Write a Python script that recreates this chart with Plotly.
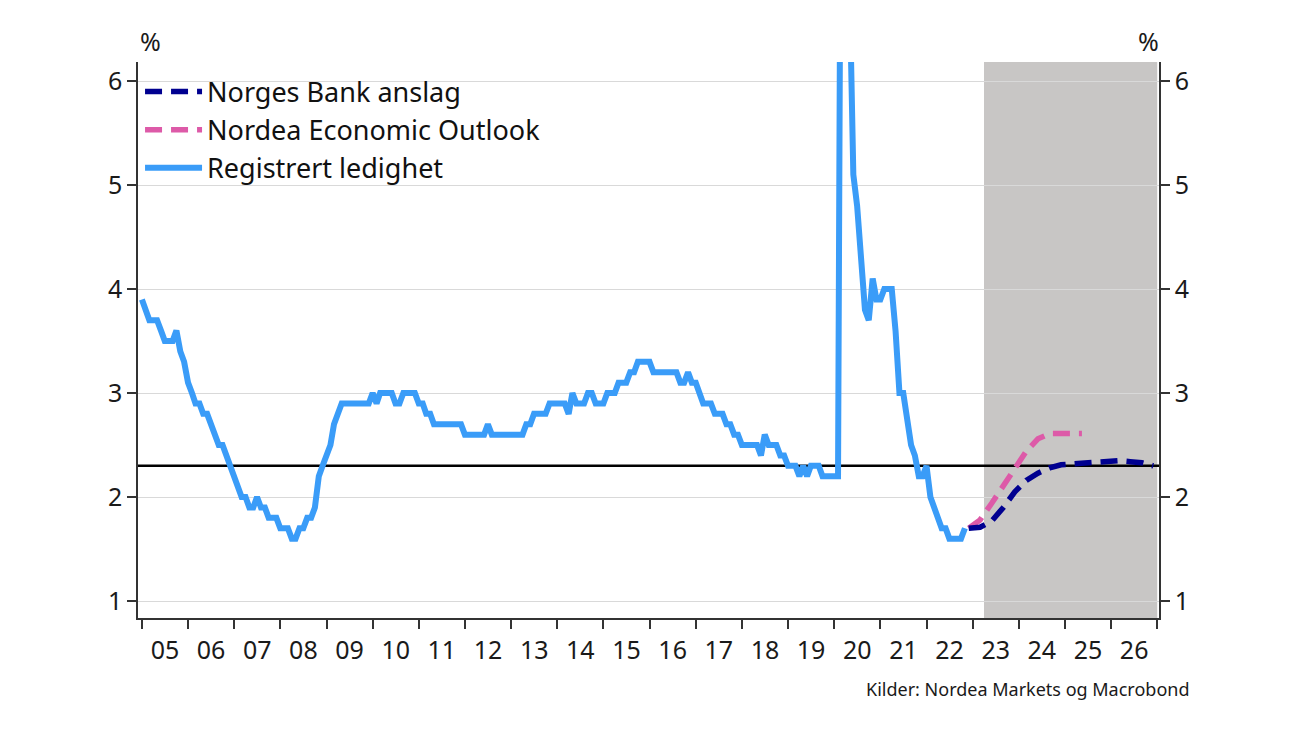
import pandas as pd
import plotly.graph_objects as go

# Registrert ledighet, monthly from Jan 2005
reg_start = "2005-01-01"
reg_values = [
    # 2005
    3.9, 3.8, 3.7, 3.7, 3.7, 3.6, 3.5, 3.5, 3.5, 3.6, 3.4, 3.3,
    # 2006
    3.1, 3.0, 2.9, 2.9, 2.8, 2.8, 2.7, 2.6, 2.5, 2.5, 2.4, 2.3,
    # 2007
    2.2, 2.1, 2.0, 2.0, 1.9, 1.9, 2.0, 1.9, 1.9, 1.8, 1.8, 1.8,
    # 2008
    1.7, 1.7, 1.7, 1.6, 1.6, 1.7, 1.7, 1.8, 1.8, 1.9, 2.2, 2.3,
    # 2009
    2.4, 2.5, 2.7, 2.8, 2.9, 2.9, 2.9, 2.9, 2.9, 2.9, 2.9, 2.9,
    # 2010
    3.0, 2.9, 3.0, 3.0, 3.0, 3.0, 2.9, 2.9, 3.0, 3.0, 3.0, 3.0,
    # 2011
    2.9, 2.9, 2.8, 2.8, 2.7, 2.7, 2.7, 2.7, 2.7, 2.7, 2.7, 2.7,
    # 2012
    2.6, 2.6, 2.6, 2.6, 2.6, 2.6, 2.7, 2.6, 2.6, 2.6, 2.6, 2.6,
    # 2013
    2.6, 2.6, 2.6, 2.6, 2.7, 2.7, 2.8, 2.8, 2.8, 2.8, 2.9, 2.9,
    # 2014
    2.9, 2.9, 2.9, 2.8, 3.0, 2.9, 2.9, 2.9, 3.0, 3.0, 2.9, 2.9,
    # 2015
    2.9, 3.0, 3.0, 3.0, 3.1, 3.1, 3.1, 3.2, 3.2, 3.3, 3.3, 3.3,
    # 2016
    3.3, 3.2, 3.2, 3.2, 3.2, 3.2, 3.2, 3.2, 3.1, 3.1, 3.2, 3.1,
    # 2017
    3.1, 3.0, 2.9, 2.9, 2.9, 2.8, 2.8, 2.8, 2.7, 2.7, 2.6, 2.6,
    # 2018
    2.5, 2.5, 2.5, 2.5, 2.5, 2.4, 2.6, 2.5, 2.5, 2.5, 2.4, 2.4,
    # 2019
    2.3, 2.3, 2.3, 2.2, 2.3, 2.2, 2.3, 2.3, 2.3, 2.2, 2.2, 2.2,
    # 2020
    2.2, 2.2, 10.4, 10.7, 7.0, 5.1, 4.8, 4.3, 3.8, 3.7, 4.1, 3.9,
    # 2021
    3.9, 4.0, 4.0, 4.0, 3.6, 3.0, 3.0, 2.7, 2.5, 2.4, 2.2, 2.2,
    # 2022
    2.3, 2.0, 1.9, 1.8, 1.7, 1.7, 1.6, 1.6, 1.6, 1.6, 1.7,
]
reg_dates = pd.date_range(reg_start, periods=len(reg_values), freq="MS")

# Norges Bank anslag (quarterly path)
nb_dates = ["2022-12-01", "2023-03-01", "2023-06-01", "2023-09-01", "2023-12-01",
            "2024-03-01", "2024-06-01", "2024-09-01", "2024-12-01",
            "2025-03-01", "2025-06-01", "2025-09-01", "2025-12-01",
            "2026-03-01", "2026-06-01", "2026-09-01", "2026-12-01"]
nb_values = [1.70, 1.71, 1.77, 1.90, 2.05, 2.16, 2.23, 2.28, 2.31,
             2.32, 2.33, 2.34, 2.35, 2.35, 2.34, 2.33, 2.30]

# Nordea Economic Outlook
nd_dates = ["2022-12-01", "2023-03-01", "2023-06-01", "2023-09-01", "2023-12-01",
            "2024-03-01", "2024-06-01", "2024-09-01", "2024-12-01",
            "2025-03-01", "2025-05-15"]
nd_values = [1.70, 1.78, 1.94, 2.11, 2.28, 2.44, 2.56, 2.61, 2.61, 2.61, 2.61]

ref_level = 2.3
forecast_start = "2023-04-01"
forecast_end = "2027-01-01"
source_text = "Kilder: Nordea Markets og Macrobond"

FONT = "Noto Sans"
BLUE = "#3a9cf8"
NAVY = "#000090"
PINK = "#dd5aa8"

fig = go.Figure()

fig.add_trace(go.Scatter(
    x=nd_dates, y=nd_values, mode="lines", name="Nordea Economic Outlook",
    line=dict(color=PINK, width=5.5, dash="17px,9px"), legendrank=2))
fig.add_trace(go.Scatter(
    x=nb_dates, y=nb_values, mode="lines", name="Norges Bank anslag",
    line=dict(color=NAVY, width=5.5, dash="17px,9px"), legendrank=1))
fig.add_trace(go.Scatter(
    x=reg_dates, y=reg_values, mode="lines", name="Registrert ledighet",
    line=dict(color=BLUE, width=6), legendrank=3))
# invisible trace for right axis
fig.add_trace(go.Scatter(x=[reg_dates[0]], y=[reg_values[0]], yaxis="y2",
                         mode="lines", showlegend=False, hoverinfo="skip",
                         line=dict(width=0)))

fig.add_shape(type="rect", xref="x", yref="paper", x0=forecast_start, x1=forecast_end,
              y0=0, y1=1, fillcolor="#c8c6c5", line_width=0, layer="below")
fig.add_shape(type="line", xref="paper", yref="y", x0=0, x1=1, y0=ref_level, y1=ref_level,
              line=dict(color="black", width=2.5), layer="between")

yrange = [0.837, 6.183]
xrange_ = ["2004-12-01", "2027-01-15"]

# page body has an 8px margin, so margins are offset accordingly
fig.update_layout(
    width=1300, height=731,
    margin=dict(l=130, r=149, t=54, b=121),
    paper_bgcolor="white", plot_bgcolor="white",
    font=dict(family=FONT, size=25, color="#1a1a1a"),
    showlegend=True,
    legend=dict(x=0.002, y=0.99, xanchor="left", yanchor="top",
                bgcolor="rgba(0,0,0,0)", font=dict(size=27, color="#111"),
                itemwidth=57, traceorder="normal", tracegroupgap=0),
    xaxis=dict(type="date", range=xrange_, dtick="M12", tick0="2005-01-01",
               tickformat="%y", ticklabelmode="period", ticks="outside",
               ticklen=9, tickwidth=1.5, tickcolor="#333",
               showgrid=False, zeroline=False, showline=True, linecolor="#333",
               linewidth=1.5, tickfont=dict(size=25)),
    yaxis=dict(range=yrange, tickvals=[1, 2, 3, 4, 5, 6], ticks="outside",
               ticklen=9, tickwidth=1.5, tickcolor="#333", showgrid=True,
               gridcolor="#d9d9d9", gridwidth=1.2, zeroline=False, showline=True,
               linecolor="#333", linewidth=1.5, tickfont=dict(size=25)),
    yaxis2=dict(range=yrange, tickvals=[1, 2, 3, 4, 5, 6], overlaying="y",
                side="right", ticks="outside", ticklen=9, tickwidth=1.5,
                tickcolor="#333", showgrid=False, zeroline=False, showline=True,
                linecolor="#333", linewidth=1.5, tickfont=dict(size=25)),
    annotations=[
        dict(text="%", xref="paper", yref="paper", x=0.012, y=1.0, yshift=2,
             xanchor="center", yanchor="bottom", showarrow=False,
             font=dict(size=25)),
        dict(text="%", xref="paper", yref="paper", x=0.99, y=1.0, yshift=2,
             xanchor="center", yanchor="bottom", showarrow=False,
             font=dict(size=25)),
        dict(text=source_text, xref="paper", yref="paper", x=1.031, y=0, yshift=-85,
             xanchor="right", yanchor="bottom", showarrow=False,
             font=dict(size=18)),
    ],
)

fig.write_html("out.html")
